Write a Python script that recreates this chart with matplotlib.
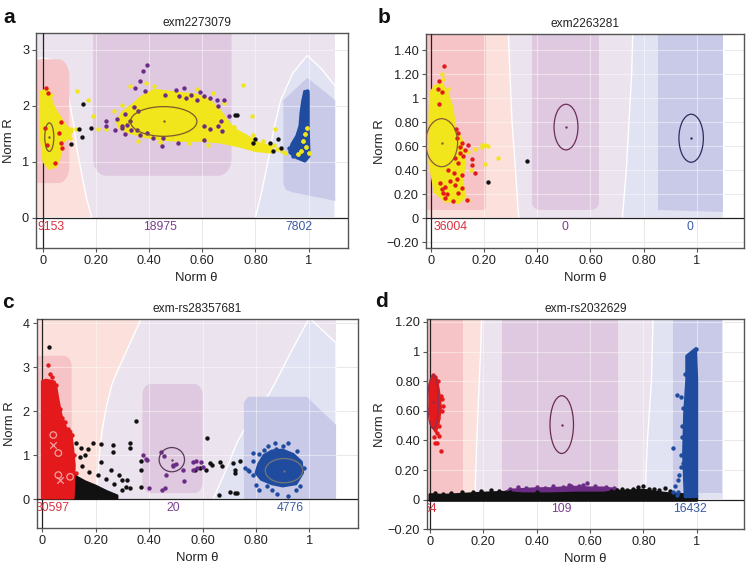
import numpy as np
import matplotlib
matplotlib.use("Agg")
import matplotlib.pyplot as plt
from matplotlib.patches import Polygon, Ellipse

plt.rcParams["font.family"] = ["Liberation Sans", "DejaVu Sans"]

W, H = 750, 568

# ---------------------------------------------------------------- colours
LAV = "#ebe3ed"
LIGHT_RED = "#fbe0db"
DARK_RED = "#f6c4c6"
PURPLE_BG = "#dfc9e0"
LIGHT_BLUE = "#e2e3f2"
DARK_BLUE = "#c9cae8"

YELLOW = "#f1e51c"
PURPLE = "#6c2c85"
RED = "#e3191c"
BLUE = "#1f4c9e"
BLACK = "#111111"

TXT_RED = "#d9303f"
TXT_PURPLE = "#7b3f8f"
TXT_BLUE = "#3d5ca6"

# ---------------------------------------------------------------- panel a data
A_TITLE = "exm2273079"
A_COUNTS = ["9153", "18975", "7802"]
A_COUNT_X = [0.03, 0.44, 0.965]
A_YTICKS = [0, 1, 2, 3]
A_YLABELS = ["0", "1", "2", "3"]

A_RED_ZONE = [(-0.05, 0), (-0.05, 2.8), (0.0, 2.86), (0.035, 2.82), (0.065, 2.7),
              (0.085, 2.45), (0.1, 2.1), (0.115, 1.7), (0.13, 1.2), (0.15, 0.7),
              (0.165, 0.35), (0.185, 0)]
A_BLUE_ZONE = [(0.80, 0), (0.825, 0.5), (0.845, 0.95), (0.87, 1.6), (0.895, 2.1),
               (0.94, 2.58), (0.995, 2.9), (1.05, 2.65), (1.1, 2.35), (1.1, 0)]
A_BLUE_CORE = [(0.905, 2.1), (0.905, 0.6), (0.915, 0.5), (0.935, 0.46), (1.1, 0.3),
               (1.1, 2.1), (0.995, 2.5)]

A_YELLOW_MAIN = [(0.28, 1.72), (0.30, 1.88), (0.34, 2.02), (0.37, 2.15), (0.42, 2.28),
                 (0.47, 2.25), (0.52, 2.22), (0.57, 2.2), (0.62, 2.12), (0.66, 1.95),
                 (0.69, 1.75), (0.72, 1.58), (0.77, 1.45), (0.81, 1.33), (0.86, 1.27),
                 (0.86, 1.17), (0.8, 1.2), (0.74, 1.28), (0.67, 1.35), (0.6, 1.38),
                 (0.52, 1.38), (0.45, 1.4), (0.38, 1.45), (0.33, 1.52), (0.29, 1.6)]
A_YELLOW_LEFT = [(-0.005, 2.25), (0.02, 2.3), (0.035, 2.05), (0.05, 1.9), (0.07, 1.75),
                 (0.09, 1.62), (0.11, 1.55), (0.1, 1.45), (0.075, 1.35), (0.065, 1.1),
                 (0.05, 0.92), (0.025, 0.88), (0.005, 1.0), (-0.005, 1.4)]
A_YELLOW_PTS = [(0.131, 2.26), (0.169, 2.11), (0.188, 1.81), (0.106, 1.58), (0.126, 1.59),
                (0.207, 1.58), (0.238, 1.59), (0.102, 1.43), (0.06, 1.8), (0.03, 2.2),
                (0.27, 1.9), (0.3, 2.02), (0.33, 2.35), (0.39, 2.4), (0.58, 2.3),
                (0.64, 2.22), (0.68, 2.05), (0.72, 1.62), (0.754, 2.38), (0.786, 1.81),
                (0.79, 1.47), (0.83, 1.37), (0.873, 1.58), (0.88, 1.22), (0.9, 1.2),
                (0.87, 1.3), (0.91, 1.15), (0.62, 1.3), (0.55, 1.33), (0.44, 1.35),
                (0.36, 1.38), (0.42, 2.35), (0.985, 1.5), (0.99, 1.27), (0.97, 1.2),
                (1.0, 1.15), (0.96, 1.13), (0.995, 1.6), (0.98, 1.38)]
A_PURPLE_PTS = [(0.391, 2.72), (0.378, 2.62), (0.365, 2.44), (0.347, 2.32), (0.385, 2.27),
                (0.343, 1.98), (0.309, 1.86), (0.278, 1.77), (0.272, 1.56), (0.24, 1.64),
                (0.238, 1.72), (0.298, 1.64), (0.297, 1.60), (0.316, 1.66), (0.334, 1.57),
                (0.353, 1.57), (0.365, 1.48), (0.391, 1.51), (0.416, 1.43), (0.447, 1.28),
                (0.453, 1.43), (0.502, 2.29), (0.533, 2.32), (0.511, 2.17), (0.54, 2.14),
                (0.557, 2.2), (0.58, 2.11), (0.605, 2.17), (0.63, 2.14), (0.655, 2.11),
                (0.68, 2.11), (0.605, 1.64), (0.63, 1.58), (0.66, 1.64), (0.673, 1.55),
                (0.70, 1.81), (0.51, 1.33), (0.605, 1.39), (0.36, 1.9), (0.33, 1.72),
                (0.31, 1.5), (0.46, 2.2), (0.59, 2.25), (0.66, 2.0), (0.67, 1.72)]
A_BLACK_PTS = [(0.150, 2.03), (0.136, 1.58), (0.147, 1.44), (0.106, 1.31), (0.18, 1.61),
               (0.723, 1.84), (0.73, 1.83), (0.798, 1.41), (0.79, 1.34), (0.855, 1.34),
               (0.865, 1.19), (0.883, 1.40), (0.895, 1.25)]
A_RED_PTS = [(0.012, 2.32), (0.019, 2.23), (0.069, 1.71), (0.06, 1.52), (0.069, 1.34),
             (0.073, 1.25), (0.047, 0.98), (0.01, 1.6), (0.015, 1.3)]
A_BLUE_HULL = [(0.985, 2.26), (0.999, 2.22), (0.999, 2.08), (0.999, 1.61), (1.002, 1.10),
               (0.986, 1.01), (0.955, 1.07), (0.93, 1.16), (0.936, 1.31), (0.955, 1.46),
               (0.967, 1.64), (0.971, 1.88), (0.977, 2.08)]
A_BLUE_PTS = [(0.992, 2.26), (0.985, 2.1), (0.93, 1.2), (0.925, 1.25), (0.94, 1.1),
              (0.95, 1.35), (0.96, 1.5)]
A_ELLIPSES = [(0.025, 1.44, 0.034, 0.51), (0.455, 1.72, 0.25, 0.53)]

# ---------------------------------------------------------------- panel b data
B_TITLE = "exm2263281"
B_COUNTS = ["36004", "0", "0"]
B_COUNT_X = [0.075, 0.505, 0.975]
B_YTICKS = [-0.2, 0, 0.2, 0.4, 0.6, 0.8, 1.0, 1.2, 1.4]
B_YLABELS = ["\u22120.20", "0", "0.20", "0.40", "0.60", "0.80", "1", "1.20", "1.40"]

B_RED_ZONE = [(-0.05, 0), (-0.05, 1.6), (0.29, 1.6), (0.297, 1.2), (0.305, 0.8),
              (0.318, 0.4), (0.33, 0)]
B_BLUE_ZONE = [(0.72, 0), (0.735, 0.4), (0.745, 0.8), (0.755, 1.2), (0.76, 1.6),
               (1.1, 1.6), (1.1, 0)]
B_YELLOW_HULL = [(0.0, 1.05), (0.015, 1.1), (0.04, 1.12), (0.06, 1.05), (0.078, 0.93),
                 (0.09, 0.76), (0.115, 0.65), (0.128, 0.46), (0.115, 0.32), (0.128, 0.18),
                 (0.103, 0.13), (0.053, 0.15), (0.015, 0.22), (-0.004, 0.46),
                 (-0.004, 0.875)]
B_YELLOW_PTS = [(0.19, 0.61), (0.216, 0.60), (0.203, 0.61), (0.19, 0.59), (0.253, 0.50),
                (0.203, 0.45), (0.166, 0.58), (0.14, 0.15), (0.053, 0.15), (0.04, 1.2),
                (0.065, 1.08), (0.14, 0.55), (0.15, 0.4), (0.045, 1.16)]
B_RED_PTS = [(0.049, 1.27), (0.03, 1.14), (0.025, 1.08), (0.04, 1.05), (0.031, 0.95),
             (0.093, 0.74), (0.103, 0.71), (0.097, 0.67), (0.115, 0.63), (0.14, 0.61),
             (0.128, 0.57), (0.109, 0.54), (0.09, 0.50), (0.103, 0.46), (0.153, 0.49),
             (0.153, 0.44), (0.166, 0.38), (0.115, 0.36), (0.097, 0.33), (0.072, 0.31),
             (0.09, 0.28), (0.053, 0.26), (0.04, 0.24), (0.115, 0.25), (0.103, 0.21),
             (0.046, 0.21), (0.06, 0.20), (0.053, 0.17), (0.084, 0.14), (0.134, 0.15),
             (0.034, 0.29), (0.065, 0.40), (0.085, 0.38), (0.11, 0.59), (0.12, 0.52)]
B_BLACK_PTS = [(0.216, 0.30), (0.36, 0.48)]
B_ELLIPSES = [(0.04, 0.63, 0.12, 0.40, "#8a5a3a"),
              (0.508, 0.76, 0.09, 0.38, "#6b2d5a"),
              (0.979, 0.667, 0.092, 0.40, "#2d2d60")]

# ---------------------------------------------------------------- panel c data
C_TITLE = "exm-rs28357681"
C_COUNTS = ["30597", "20", "4776"]
C_COUNT_X = [0.04, 0.49, 0.928]
C_YTICKS = [0, 1, 2, 3, 4]
C_YLABELS = ["0", "1", "2", "3", "4"]

C_RED_ZONE = [(-0.05, 0), (-0.05, 4.3), (0.385, 4.3), (0.34, 3.7), (0.31, 3.3),
              (0.28, 2.9), (0.26, 2.6), (0.24, 2.1), (0.225, 1.6), (0.215, 1.1),
              (0.208, 0.5), (0.2, 0)]
C_BLUE_ZONE = [(0.64, 0), (0.69, 0.7), (0.73, 1.3), (0.79, 1.95), (0.85, 2.4),
               (0.89, 2.86), (0.94, 3.45), (1.0, 4.12), (1.1, 3.55), (1.1, 0)]
C_BLUE_CORE = [(0.755, 0), (0.755, 2.2), (0.77, 2.33), (0.99, 2.33), (1.1, 1.69), (1.1, 0)]
C_RED_HULL = [(0.0, 2.68), (0.014, 2.71), (0.045, 2.67), (0.051, 2.56), (0.058, 2.30),
              (0.07, 1.92), (0.089, 1.61), (0.107, 1.54), (0.114, 1.16), (0.12, 0.78),
              (0.116, 0.03), (0.0, 0.03)]
C_RED_PTS = [(0.02, 3.05), (0.035, 2.78), (0.03, 2.85), (0.095, 1.6), (0.105, 1.3),
             (0.12, 1.0), (0.125, 0.6), (0.085, 1.75), (0.065, 2.05), (0.05, 2.6),
             (0.075, 1.85), (0.11, 1.45)]
C_PALE_O = [(0.041, 1.46), (0.06, 1.05), (0.06, 0.55), (0.104, 0.51)]
C_PALE_X = [(0.041, 1.23), (0.066, 0.44)]
C_BLACK_HULL = [(0.11, 0.62), (0.13, 0.5), (0.16, 0.4), (0.2, 0.3), (0.24, 0.18),
                (0.28, 0.08), (0.28, 0.02), (0.11, 0.02)]
C_BLACK_PTS = [(0.026, 3.45), (0.351, 1.78), (0.126, 1.27), (0.145, 1.16), (0.14, 0.96),
               (0.17, 1.14), (0.189, 1.27), (0.22, 1.25), (0.264, 1.23), (0.264, 1.07),
               (0.328, 1.27), (0.328, 1.17), (0.22, 0.85), (0.176, 0.63), (0.207, 0.55),
               (0.259, 0.67), (0.288, 0.55), (0.30, 0.44), (0.317, 0.44), (0.313, 0.29),
               (0.33, 0.25), (0.30, 0.21), (0.37, 0.87), (0.37, 0.66), (0.37, 0.29),
               (0.616, 1.39), (0.59, 0.7), (0.613, 0.67), (0.628, 0.82), (0.666, 0.85),
               (0.673, 0.75), (0.715, 0.82), (0.72, 0.67), (0.72, 0.59), (0.74, 0.86),
               (0.703, 0.17), (0.72, 0.15), (0.66, 0.10), (0.73, 0.15), (0.635, 0.77),
               (0.572, 0.67), (0.15, 0.75), (0.24, 0.45), (0.27, 0.35), (0.16, 1.0)]
C_PURPLE_PTS = [(0.376, 1.0), (0.388, 0.91), (0.445, 1.08), (0.454, 0.99), (0.488, 0.78),
                (0.49, 0.76), (0.526, 0.67), (0.563, 0.85), (0.576, 0.88), (0.593, 0.85),
                (0.463, 0.55), (0.532, 0.42), (0.398, 0.25), (0.448, 0.21), (0.46, 0.26),
                (0.563, 0.66), (0.6, 0.73), (0.393, 0.90), (0.5, 0.8), (0.58, 0.7)]
C_BLUE_HULL = [(0.83, 1.0), (0.86, 1.1), (0.9, 1.12), (0.94, 1.02), (0.97, 0.85),
               (0.975, 0.6), (0.95, 0.35), (0.9, 0.3), (0.86, 0.35), (0.82, 0.45),
               (0.8, 0.6), (0.81, 0.8)]
C_BLUE_PTS = [(0.77, 0.67), (0.79, 0.88), (0.81, 1.02), (0.845, 1.2), (0.87, 1.28),
              (0.875, 1.15), (0.92, 1.27), (0.955, 1.1), (0.775, 0.65), (0.79, 0.55),
              (0.8, 0.32), (0.81, 0.22), (0.84, 0.3), (0.86, 0.2), (0.88, 0.12),
              (0.92, 0.08), (0.95, 0.2), (0.79, 1.05), (0.76, 0.72), (0.83, 1.12),
              (0.9, 1.2), (0.965, 0.3), (0.98, 0.7)]
C_ELLIPSES = [(0.485, 0.9, 0.095, 0.55, "#5a3a5a"), (0.905, 0.65, 0.14, 0.55, "#777777")]

# ---------------------------------------------------------------- panel d data
D_TITLE = "exm-rs2032629"
D_COUNTS = ["64", "109", "16432"]
D_COUNT_X = [0.0, 0.494, 0.975]
D_YTICKS = [-0.2, 0, 0.2, 0.4, 0.6, 0.8, 1.0, 1.2]
D_YLABELS = ["\u22120.20", "0", "0.20", "0.40", "0.60", "0.80", "1", "1.20"]

D_RED_ZONE = [(-0.05, 0), (-0.05, 1.3), (0.195, 1.3), (0.19, 1.0), (0.18, 0.6),
              (0.172, 0.2), (0.168, 0)]
D_BLUE_ZONE = [(0.805, 0), (0.815, 0.4), (0.83, 0.8), (0.837, 1.3), (1.1, 1.3), (1.1, 0)]
D_RED_HULL = [(0.0, 0.78), (0.012, 0.83), (0.026, 0.81), (0.034, 0.72), (0.04, 0.62),
              (0.032, 0.52), (0.022, 0.46), (0.008, 0.5), (0.0, 0.6)]
D_RED_PTS = [(0.041, 0.33), (0.05, 0.63), (0.046, 0.6), (0.02, 0.38), (0.025, 0.45),
             (0.01, 0.5), (0.035, 0.43), (0.015, 0.42), (0.03, 0.55), (0.04, 0.7),
             (0.02, 0.83), (0.03, 0.8), (0.045, 0.68), (0.005, 0.72), (0.0, 0.62),
             (0.035, 0.5), (0.012, 0.84), (0.028, 0.38)]
D_BLACK_HULL = [(0.0, -0.005), (0.0, 0.035), (0.05, 0.03), (0.1, 0.035), (0.15, 0.04),
                (0.2, 0.045), (0.27, 0.05), (0.35, 0.04), (0.45, 0.04), (0.55, 0.045),
                (0.65, 0.045), (0.7, 0.055), (0.75, 0.06), (0.8, 0.065), (0.85, 0.05),
                (0.9, 0.04), (0.95, 0.035), (1.0, 0.03), (1.0, -0.005)]
D_BLACK_PTS = [(0.02, 0.045), (0.08, 0.045), (0.12, 0.05), (0.16, 0.055), (0.19, 0.06),
               (0.23, 0.065), (0.26, 0.06), (0.72, 0.07), (0.74, 0.065), (0.76, 0.075),
               (0.78, 0.085), (0.8, 0.09), (0.82, 0.075), (0.84, 0.07), (0.86, 0.065),
               (0.88, 0.08), (0.9, 0.06), (0.7, 0.065), (0.68, 0.06), (0.4, 0.055),
               (0.05, 0.04), (0.3, 0.05)]
D_PURPLE_HULL = [(0.27, 0.03), (0.28, 0.05), (0.3, 0.065), (0.35, 0.07), (0.4, 0.075),
                 (0.45, 0.075), (0.5, 0.08), (0.55, 0.085), (0.6, 0.08), (0.65, 0.08),
                 (0.7, 0.07), (0.71, 0.03)]
D_PURPLE_PTS = [(0.3, 0.075), (0.33, 0.085), (0.36, 0.08), (0.4, 0.085), (0.43, 0.08),
                (0.46, 0.09), (0.5, 0.085), (0.53, 0.095), (0.56, 0.09), (0.59, 0.11),
                (0.62, 0.09), (0.66, 0.085), (0.69, 0.08), (0.52, 0.1), (0.575, 0.1)]
D_BLUE_HULL = [(0.962, 0.97), (0.996, 1.02), (1.0, 0.81), (1.0, 0.02), (0.956, 0.02),
               (0.95, 0.31), (0.954, 0.58), (0.962, 0.81)]
D_BLUE_PTS = [(0.912, 0.35), (0.925, 0.71), (0.94, 0.69), (0.92, 0.09), (0.93, 0.13),
              (0.935, 0.17), (0.94, 0.22), (0.945, 0.42), (0.93, 0.05), (0.91, 0.05),
              (0.925, 0.03), (0.996, 1.02), (0.95, 0.25), (0.94, 0.3), (0.945, 0.5),
              (0.95, 0.62), (0.955, 0.85)]
D_ELLIPSES = [(0.012, 0.66, 0.04, 0.36, "#8a3050"), (0.494, 0.507, 0.088, 0.39, "#6b2d4a")]

XTICKS = [0, 0.2, 0.4, 0.6, 0.8, 1.0]
XLABELS = ["0", "0.20", "0.40", "0.60", "0.80", "1"]


def rounded_rect(x0, x1, y0, y1, rx, ry, corners=("bl", "br", "tr", "tl")):
    """Polygon vertices of a rectangle with selected rounded corners."""
    spec = {
        "bl": ((x0 + rx, y0 + ry), 180, 270, (x0, y0)),
        "br": ((x1 - rx, y0 + ry), 270, 360, (x1, y0)),
        "tr": ((x1 - rx, y1 - ry), 0, 90, (x1, y1)),
        "tl": ((x0 + rx, y1 - ry), 90, 180, (x0, y1)),
    }
    verts = []
    for key in ("bl", "br", "tr", "tl"):
        (cx, cy), a0, a1, corner = spec[key]
        if key in corners:
            ang = np.radians(np.linspace(a0, a1, 10))
            verts += list(zip(cx + rx * np.cos(ang), cy + ry * np.sin(ang)))
        else:
            verts.append(corner)
    return verts


def zone(ax, verts, color, z=1.0, edge="none"):
    ax.add_patch(Polygon(verts, closed=True, facecolor=color, edgecolor=edge,
                         lw=1.0, zorder=z))


def blob(ax, verts, color, z=4):
    ax.add_patch(Polygon(verts, closed=True, facecolor=color, edgecolor=color,
                         lw=2.0, joinstyle="round", zorder=z))


def dots(ax, pts, color, z=5, s=10):
    p = np.array(pts)
    ax.scatter(p[:, 0], p[:, 1], s=s, c=color, linewidths=0, zorder=z)


def ellipse(ax, cx, cy, w, h, color):
    ax.add_patch(Ellipse((cx, cy), w, h, fill=False, edgecolor=color, lw=0.9, zorder=7))
    ax.scatter([cx], [cy], s=3, c=color, linewidths=0, zorder=7)


def setup(ax, xlim, ylim, yticks, ylabels, title, counts, count_x, ylab_x, title_x=0.5):
    ax.set_xlim(*xlim)
    ax.set_ylim(*ylim)
    ax.set_xticks(XTICKS, XLABELS)
    ax.set_yticks(yticks, ylabels)
    ax.set_axisbelow(True)
    ax.grid(color="#d6d6d6", lw=0.7, zorder=0.5)
    for t in XTICKS:
        ax.axvline(t, color="white", alpha=0.45, lw=0.8, zorder=2.5)
    for t in yticks:
        ax.axhline(t, color="white", alpha=0.45, lw=0.8, zorder=2.5)
    ax.axhline(0, color="#222222", lw=0.9, zorder=3)
    ax.axvline(0, color="#222222", lw=0.9, zorder=3)
    for sp in ax.spines.values():
        sp.set_color("#555555")
        sp.set_linewidth(1.0)
    ax.tick_params(length=3, width=0.8, color="#555555", labelsize=9.2,
                   labelcolor="#222222", pad=2)
    ax.set_title(title, fontsize=8.6, pad=5, x=title_x, color="#222222")
    ax.set_xlabel("Norm \u03b8", fontsize=9.4, color="#222222")
    ax.set_ylabel("Norm R", fontsize=9.4, color="#222222")
    ax.xaxis.set_label_coords(title_x, -0.112)
    ax.yaxis.set_label_coords(ylab_x, 0.5)
    for txt, x, col in zip(counts, count_x, [TXT_RED, TXT_PURPLE, TXT_BLUE]):
        ax.annotate(txt, xy=(x, 0), xytext=(0, -9), textcoords="offset pixels",
                    ha="center", va="center", fontsize=8.8, color=col,
                    annotation_clip=False, clip_on=True, zorder=8)


fig = plt.figure(figsize=(W / 100, H / 100), dpi=100)


def axes_px(left, top, right, bottom):
    return fig.add_axes([left / W, 1 - bottom / H, (right - left) / W, (bottom - top) / H])


# ---------------------------------------------------------------- panel a
ax = axes_px(36, 33, 348, 248)
zone(ax, [(-0.05, 0), (-0.05, 3.4), (1.1, 3.4), (1.1, 0)], LAV, 0.8)
zone(ax, A_RED_ZONE, LIGHT_RED, 1.0, edge="white")
zone(ax, rounded_rect(-0.05, 0.1, 0.62, 2.83, 0.04, 0.3, ("br", "tr")), DARK_RED, 1.2)
zone(ax, rounded_rect(0.19, 0.71, 0.75, 3.5, 0.05, 0.3, ("bl", "br")), PURPLE_BG, 1.2)
zone(ax, A_BLUE_ZONE, LIGHT_BLUE, 1.0, edge="white")
zone(ax, A_BLUE_CORE, DARK_BLUE, 1.2)
blob(ax, A_YELLOW_MAIN, YELLOW)
blob(ax, A_YELLOW_LEFT, YELLOW)
dots(ax, A_YELLOW_PTS, YELLOW)
blob(ax, A_BLUE_HULL, BLUE)
dots(ax, A_BLUE_PTS, BLUE)
dots(ax, A_YELLOW_PTS[-7:], YELLOW, z=6)
dots(ax, A_PURPLE_PTS, PURPLE, z=6)
dots(ax, A_BLACK_PTS, BLACK, z=6)
dots(ax, A_RED_PTS, RED, z=6)
for cx, cy, w, h in A_ELLIPSES:
    ellipse(ax, cx, cy, w, h, "#7a5a2a")
setup(ax, (-0.025, 1.148), (-0.54, 3.3), A_YTICKS, A_YLABELS, A_TITLE,
      A_COUNTS, A_COUNT_X, -0.067, title_x=0.515)

# ---------------------------------------------------------------- panel b
ax = axes_px(425.7, 34.3, 744.3, 248.3)
zone(ax, [(-0.05, 0), (-0.05, 1.6), (1.1, 1.6), (1.1, 0)], LAV, 0.8)
zone(ax, B_RED_ZONE, LIGHT_RED, 1.0, edge="white")
zone(ax, rounded_rect(-0.05, 0.207, 0.07, 1.7, 0.01, 0.03, ("br",)), DARK_RED, 1.2)
zone(ax, rounded_rect(0.38, 0.632, 0.07, 1.7, 0.03, 0.06, ("bl", "br")), PURPLE_BG, 1.2)
zone(ax, B_BLUE_ZONE, LIGHT_BLUE, 1.0, edge="white")
zone(ax, [(0.853, 0.07), (0.853, 1.7), (1.1, 1.7), (1.1, 0.05)], DARK_BLUE, 1.2)
blob(ax, B_YELLOW_HULL, YELLOW)
dots(ax, B_YELLOW_PTS, YELLOW)
dots(ax, B_RED_PTS, RED, z=6)
dots(ax, B_BLACK_PTS, BLACK, z=6)
for cx, cy, w, h, col in B_ELLIPSES:
    ellipse(ax, cx, cy, w, h, col)
setup(ax, (-0.02, 1.179), (-0.25, 1.533), B_YTICKS, B_YLABELS, B_TITLE,
      B_COUNTS, B_COUNT_X, -0.126)

# ---------------------------------------------------------------- panel c
ax = axes_px(36.7, 319.3, 357.7, 528.3)
zone(ax, [(-0.05, 0), (-0.05, 4.3), (1.1, 4.3), (1.1, 0)], LAV, 0.8)
zone(ax, C_RED_ZONE, LIGHT_RED, 1.0, edge="white")
zone(ax, rounded_rect(-0.05, 0.11, 0.0, 3.26, 0.03, 0.25, ("tr",)), DARK_RED, 1.2)
zone(ax, rounded_rect(0.375, 0.6, 0.14, 2.62, 0.03, 0.25), PURPLE_BG, 1.2)
zone(ax, C_BLUE_ZONE, LIGHT_BLUE, 1.0, edge="white")
zone(ax, C_BLUE_CORE, DARK_BLUE, 1.2)
blob(ax, C_BLACK_HULL, BLACK)
dots(ax, C_BLACK_PTS, BLACK)
blob(ax, C_RED_HULL, RED, z=5)
dots(ax, C_RED_PTS, RED, z=5)
p = np.array(C_PALE_O)
ax.scatter(p[:, 0], p[:, 1], s=22, facecolors="none", edgecolors="#f2a3a0", lw=0.9, zorder=6)
p = np.array(C_PALE_X)
ax.scatter(p[:, 0], p[:, 1], s=22, marker="x", c="#f2a3a0", lw=0.9, zorder=6)
dots(ax, C_PURPLE_PTS, PURPLE, z=6)
blob(ax, C_BLUE_HULL, BLUE)
dots(ax, C_BLUE_PTS, BLUE)
for cx, cy, w, h, col in C_ELLIPSES:
    ellipse(ax, cx, cy, w, h, col)
setup(ax, (-0.021, 1.181), (-0.66, 4.09), C_YTICKS, C_YLABELS, C_TITLE,
      C_COUNTS, C_COUNT_X, -0.066)

# ---------------------------------------------------------------- panel d
ax = axes_px(426.7, 319, 744.3, 529.3)
zone(ax, [(-0.05, 0), (-0.05, 1.3), (1.1, 1.3), (1.1, 0)], LAV, 0.8)
zone(ax, D_RED_ZONE, LIGHT_RED, 1.0, edge="white")
zone(ax, [(-0.05, 0), (-0.05, 1.3), (0.125, 1.3), (0.125, 0)], DARK_RED, 1.2)
zone(ax, [(0.27, 0), (0.27, 1.3), (0.706, 1.3), (0.706, 0)], PURPLE_BG, 1.2)
zone(ax, D_BLUE_ZONE, LIGHT_BLUE, 1.0, edge="white")
zone(ax, [(0.909, 0.045), (0.909, 1.3), (1.096, 1.3), (1.096, 0.045)], DARK_BLUE, 1.2)
blob(ax, D_PURPLE_HULL, PURPLE)
dots(ax, D_PURPLE_PTS, PURPLE)
blob(ax, D_BLACK_HULL, BLACK, z=5)
dots(ax, D_BLACK_PTS, BLACK, z=5)
blob(ax, D_RED_HULL, RED)
dots(ax, D_RED_PTS, RED)
blob(ax, D_BLUE_HULL, BLUE, z=6)
dots(ax, D_BLUE_PTS, BLUE, z=6)
for cx, cy, w, h, col in D_ELLIPSES:
    ellipse(ax, cx, cy, w, h, col)
setup(ax, (-0.012, 1.178), (-0.198, 1.22), D_YTICKS, D_YLABELS, D_TITLE,
      D_COUNTS, D_COUNT_X, -0.127)

# ---------------------------------------------------------------- panel letters
for letter, x, y in [("a", 3, 22.7), ("b", 378, 22.7), ("c", 2, 308), ("d", 375, 306.7)]:
    fig.text(x / W, 1 - y / H, letter, fontsize=15, fontweight="bold", va="baseline",
             ha="left", color="#111111")

fig.savefig("out.png", dpi=100)
